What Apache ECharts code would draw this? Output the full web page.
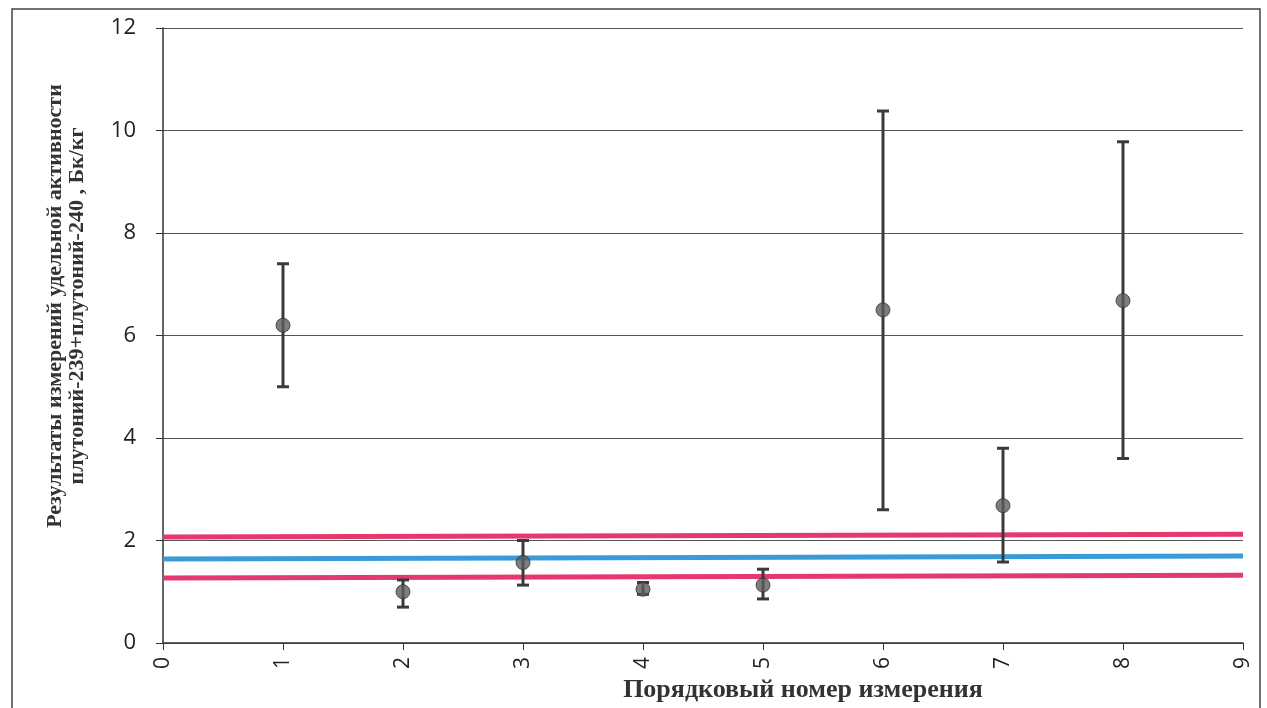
<!DOCTYPE html>
<html>
<head>
<meta charset="utf-8">
<script src="https://cdn.jsdelivr.net/npm/echarts@6/dist/echarts.min.js"></script>
<style>
  html, body { margin: 0; padding: 0; background: #fff; }
  #main { width: 1267px; height: 708px; }
</style>
</head>
<body>
<div id="main"></div>
<script>
// номера измерений и результаты
var nums = [1, 2, 3, 4, 5, 6, 7, 8];
var values = [6.2, 1.0, 1.57, 1.05, 1.13, 6.5, 2.68, 6.68];
var lower = [5.0, 0.7, 1.13, 0.95, 0.86, 2.6, 1.58, 3.6];
var upper = [7.4, 1.23, 2.0, 1.18, 1.44, 10.38, 3.8, 9.78];
// горизонтальные уровни (значение слева, справа)
var xEnds = [0, 9];
var upperPink = [2.07, 2.12];
var bluePink = [1.64, 1.70];
var lowerPink = [1.27, 1.32];
var yTicks = [0, 2, 4, 6, 8, 10, 12];

var xTitle = 'Порядковый номер измерения';
var yTitle = 'Результаты измерений удельной активности\nплутоний-239+плутоний-240 , Бк/кг';

var pointData = nums.map(function (n, i) { return [n, values[i]]; });
var errData = nums.map(function (n, i) { return [n, lower[i], upper[i]]; });
function level(arr) { return xEnds.map(function (x, i) { return [x, arr[i]]; }); }

var myChart = echarts.init(document.getElementById('main'));
var option = {
  animation: false,
  grid: { left: 163, right: 24, top: 28, bottom: 65 },
  graphic: [
    {
      type: 'rect',
      shape: { x: 12, y: 9, width: 1248, height: 730 },
      style: { fill: 'none', stroke: '#444', lineWidth: 1.5 },
      silent: true
    },
    {
      // подпись оси X (смещена вправо, как в оригинале)
      type: 'text',
      x: 803, y: 690,
      style: {
        text: xTitle, fill: '#333',
        font: 'bold 26px "Liberation Serif"',
        align: 'center', verticalAlign: 'middle'
      },
      silent: true
    },
    {
      type: 'text',
      x: 66, y: 306,
      rotation: Math.PI / 2,
      style: {
        text: yTitle, fill: '#333',
        font: 'bold 22px "Liberation Serif"',
        lineHeight: 22,
        align: 'center', verticalAlign: 'middle'
      },
      silent: true
    }
  ],
  xAxis: {
    type: 'value',
    min: 0, max: 9, interval: 1,
    axisLine: { lineStyle: { color: '#333', width: 1.5 } },
    axisTick: { show: true, length: 7, lineStyle: { color: '#333' } },
    axisLabel: { rotate: 90, margin: 14, fontFamily: 'Open Sans', fontSize: 21, color: '#222' },
    splitLine: { show: false }
  },
  yAxis: {
    type: 'value',
    min: 0, max: 12, interval: 2,
    axisLine: { show: true, lineStyle: { color: '#333', width: 1.5 } },
    axisTick: { show: true, length: 7, lineStyle: { color: '#333' } },
    axisLabel: {
      margin: 27, fontFamily: 'Open Sans', fontSize: 22, color: '#222',
      formatter: function (v) { return yTicks.indexOf(v) >= 0 ? v : ''; }
    },
    splitLine: { show: true, lineStyle: { color: '#555', width: 1 } }
  },
  series: [
    {
      type: 'line', data: level(upperPink), symbol: 'none', silent: true,
      lineStyle: { color: '#e5386d', width: 5 }, z: 2
    },
    {
      type: 'line', data: level(bluePink), symbol: 'none', silent: true,
      lineStyle: { color: '#3a9bd8', width: 5 }, z: 2
    },
    {
      type: 'line', data: level(lowerPink), symbol: 'none', silent: true,
      lineStyle: { color: '#e5386d', width: 5 }, z: 2
    },
    {
      // погрешности
      type: 'custom',
      data: errData,
      z: 3,
      renderItem: function (params, api) {
        var x = api.value(0);
        var lo = api.coord([x, api.value(1)]);
        var hi = api.coord([x, api.value(2)]);
        var half = 6;
        var st = { stroke: '#3a3a3a', lineWidth: 3 };
        return {
          type: 'group',
          children: [
            { type: 'line', shape: { x1: lo[0], y1: lo[1], x2: hi[0], y2: hi[1] }, style: st },
            { type: 'line', shape: { x1: hi[0] - half, y1: hi[1], x2: hi[0] + half, y2: hi[1] }, style: st },
            { type: 'line', shape: { x1: lo[0] - half, y1: lo[1], x2: lo[0] + half, y2: lo[1] }, style: st }
          ]
        };
      }
    },
    {
      type: 'scatter',
      data: pointData,
      symbol: 'circle',
      symbolSize: 14,
      z: 4,
      itemStyle: { color: '#5c5c5c', borderColor: '#333', borderWidth: 1 }
    }
  ]
};
myChart.setOption(option);
</script>
</body>
</html>
